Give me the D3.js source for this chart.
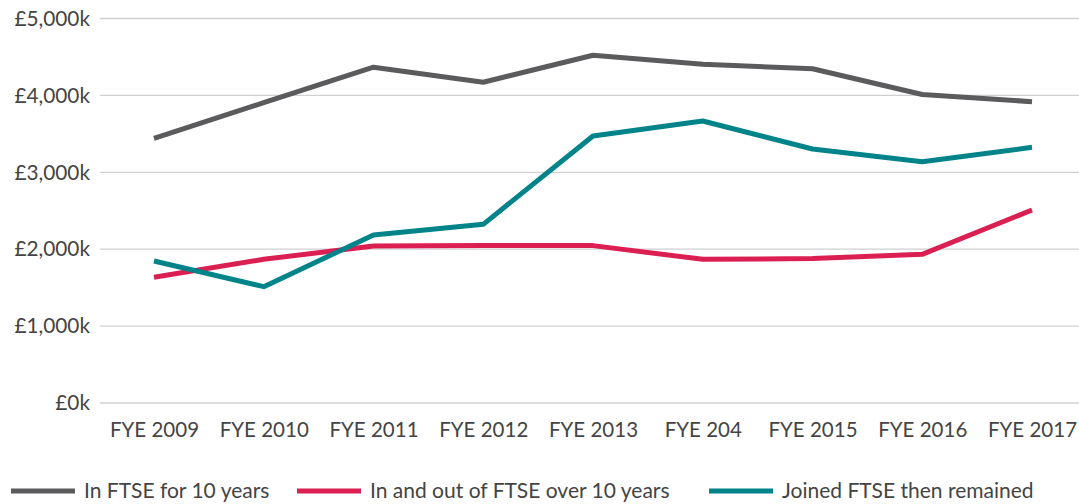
<!DOCTYPE html>
<html>
<head>
<meta charset="utf-8">
<script src="https://cdn.jsdelivr.net/npm/d3@7"></script>
<style>
  body { margin: 0; background: #fff; }
  svg text { font-family: Lato, "Open Sans", sans-serif; fill: #444; }
</style>
</head>
<body>
<svg id="chart" width="1079" height="504"></svg>
<script>
const years = ["FYE 2009","FYE 2010","FYE 2011","FYE 2012","FYE 2013","FYE 204","FYE 2015","FYE 2016","FYE 2017"];
const inFtse = [3435,3900,4360,4165,4515,4400,4340,4005,3912];
const inAndOut = [1628,1862,2035,2040,2040,1862,1872,1927,2503];
const joined = [1840,1506,2178,2317,3465,3660,3296,3131,3318];
const yTicks = [0,1000,2000,3000,4000,5000];
const seriesNames = ["In FTSE for 10 years","In and out of FTSE over 10 years","Joined FTSE then remained"];
const colors = ["#5b5b5d","#dc1f53","#00848a"];
const font = "Lato, sans-serif";

const svg = d3.select("#chart");
const x = d3.scalePoint().domain(years).range([154,1032]);
const y = d3.scaleLinear().domain([0,5000]).range([402.5,18]);

// grid + y labels
const yaxis = d3.axisLeft(y).tickValues(yTicks)
  .tickSize(-979)
  .tickFormat(d => "£" + d3.format(",")(d) + "k");
svg.append("g").attr("transform","translate(100,0)").call(yaxis)
  .call(g => g.select(".domain").remove())
  .call(g => g.selectAll(".tick line").attr("stroke","#d0d0d0").attr("stroke-width",1.3))
  .call(g => g.selectAll(".tick text").attr("x",-10).attr("dy","0.35em")
    .attr("font-size",20.8).style("font-family",font).attr("fill","#444"));

// x labels
const xaxis = d3.axisBottom(x).tickSize(0);
svg.append("g").attr("transform","translate(0,402)").call(xaxis)
  .call(g => g.select(".domain").remove())
  .call(g => g.selectAll(".tick text").attr("y",20).attr("dy","0.71em")
    .attr("font-size",20.5).style("font-family",font).attr("fill","#444"));

const line = d3.line().x((d,i) => x(years[i])).y(d => y(d));
[inFtse,inAndOut,joined].forEach((s,k) => {
  svg.append("path").datum(s).attr("d",line)
    .attr("fill","none").attr("stroke",colors[k]).attr("stroke-width",5)
    .attr("stroke-linejoin","round");
});

// legend
const legX = [11,297,709];
seriesNames.forEach((n,k) => {
  const g = svg.append("g").attr("transform",`translate(${legX[k]},491)`);
  g.append("line").attr("x1",0).attr("x2",64).attr("stroke",colors[k]).attr("stroke-width",5);
  g.append("text").attr("x",73).attr("dy","0.35em").attr("font-size",21).text(n);
});
</script>
</body>
</html>
